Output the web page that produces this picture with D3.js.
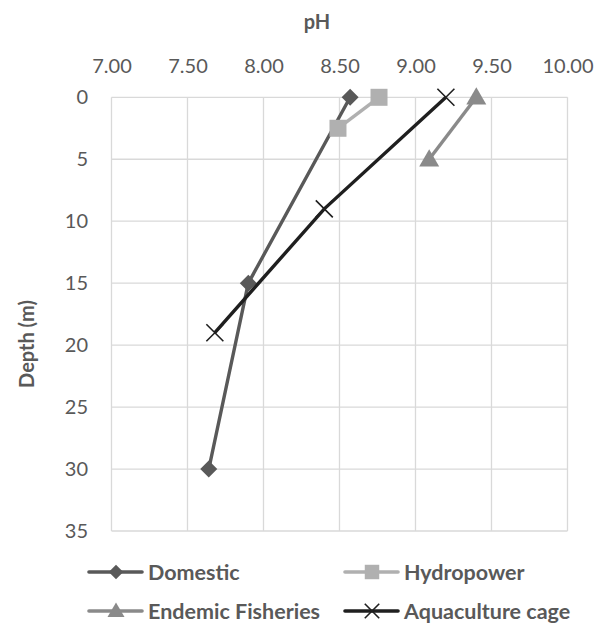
<!DOCTYPE html>
<html><head><meta charset="utf-8">
<script src="https://cdn.jsdelivr.net/npm/d3@7"></script>
<style>body{margin:0;background:#fff}svg{display:block}text{font-family:Lato,"Open Sans",sans-serif}</style>
</head><body>
<script>
const phTicks = [7.0, 7.5, 8.0, 8.5, 9.0, 9.5, 10.0];
const depthTicks = [0, 5, 10, 15, 20, 25, 30, 35];
const domesticPH = [8.57, 7.90, 7.64];
const domesticDepth = [0, 15, 30];
const hydroPH = [8.76, 8.49];
const hydroDepth = [0, 2.5];
const endemicPH = [9.40, 9.09];
const endemicDepth = [0, 5];
const aquaPH = [9.20, 8.40, 7.68];
const aquaDepth = [0, 9, 19];
const seriesNames = ["Domestic", "Hydropower", "Endemic Fisheries", "Aquaculture cage"];

const W = 606, H = 624;
const svg = d3.select("body").append("svg").attr("width", W).attr("height", H);
const x = d3.scaleLinear().domain([7, 10]).range([111.5, 567.5]);
const y = d3.scaleLinear().domain([0, 35]).range([97.3, 531]);

// gridlines
svg.append("g").selectAll("line").data(phTicks).join("line")
  .attr("x1", d => x(d)).attr("x2", d => x(d)).attr("y1", y(0)).attr("y2", y(35))
  .attr("stroke", "#d9d9d9").attr("stroke-width", 1.3);
svg.append("g").selectAll("line").data(depthTicks).join("line")
  .attr("x1", x(7)).attr("x2", x(10)).attr("y1", d => y(d)).attr("y2", d => y(d))
  .attr("stroke", "#d9d9d9").attr("stroke-width", 1.3);

// axes
const xAxis = d3.axisTop(x).tickValues(phTicks).tickFormat(d3.format(".2f")).tickSize(0).tickPadding(0);
const gx = svg.append("g").attr("transform", "translate(0,66)").call(xAxis);
gx.select(".domain").remove();
gx.selectAll("text").attr("font-size", 20).attr("fill", "#595959").attr("dy", "0.35em");

const yAxis = d3.axisLeft(y).tickValues(depthTicks).tickFormat(d3.format("d")).tickSize(0).tickPadding(0);
const gy = svg.append("g").attr("transform", "translate(88,0)").call(yAxis);
gy.select(".domain").remove();
gy.selectAll("text").attr("font-size", 20).attr("fill", "#595959");

svg.append("text").attr("x", 317).attr("y", 22).attr("text-anchor", "middle").attr("dy", "0.35em")
  .attr("font-size", 20).attr("font-weight", "bold").attr("fill", "#595959").text("pH");
svg.append("text").attr("transform", "translate(27,344) rotate(-90)").attr("text-anchor", "middle").attr("dy", "0.35em")
  .attr("font-size", 20).attr("font-weight", "bold").attr("fill", "#595959").text("Depth (m)");

const series = [
  {name: seriesNames[0], ph: domesticPH, depth: domesticDepth, color: "#595959", marker: "diamond"},
  {name: seriesNames[1], ph: hydroPH, depth: hydroDepth, color: "#b0b0b0", marker: "square"},
  {name: seriesNames[2], ph: endemicPH, depth: endemicDepth, color: "#8a8a8a", marker: "triangle"},
  {name: seriesNames[3], ph: aquaPH, depth: aquaDepth, color: "#1f1f1f", marker: "x"}
];

function drawMarker(g, type, color, cx, cy, scale) {
  const s = scale || 1;
  if (type === "diamond") {
    const r = 8.5 * s;
    g.append("path").attr("d", `M${cx},${cy - r}L${cx + r},${cy}L${cx},${cy + r}L${cx - r},${cy}Z`).attr("fill", color);
  } else if (type === "square") {
    const r = 8.5 * s;
    g.append("rect").attr("x", cx - r).attr("y", cy - r).attr("width", 2 * r).attr("height", 2 * r).attr("fill", color);
  } else if (type === "triangle") {
    const r = 10 * s;
    g.append("path").attr("d", `M${cx},${cy - r * 1.0}L${cx + r},${cy + r * 0.72}L${cx - r},${cy + r * 0.72}Z`).attr("fill", color);
  } else if (type === "x") {
    const r = 8.5 * s;
    g.append("path").attr("d", `M${cx - r},${cy - r}L${cx + r},${cy + r}M${cx - r},${cy + r}L${cx + r},${cy - r}`)
      .attr("stroke", color).attr("stroke-width", 1.6).attr("fill", "none");
  }
}

const line = d3.line().x(d => x(d[0])).y(d => y(d[1]));
series.forEach(s => {
  const pts = s.ph.map((v, i) => [v, s.depth[i]]);
  const g = svg.append("g");
  g.append("path").attr("d", line(pts)).attr("fill", "none").attr("stroke", s.color).attr("stroke-width", 3.4);
  pts.forEach(p => drawMarker(g, s.marker, s.color, x(p[0]), y(p[1])));
});

// legend
const legendPos = [[89, 572], [345, 572], [89, 611], [345, 611]];
series.forEach((s, i) => {
  const [lx, ly] = legendPos[i];
  const g = svg.append("g");
  g.append("line").attr("x1", lx).attr("x2", lx + 53).attr("y1", ly).attr("y2", ly)
    .attr("stroke", s.color).attr("stroke-width", 3.6).attr("stroke-linecap", "round");
  drawMarker(g, s.marker, s.color, lx + 27, ly, 0.85);
  g.append("text").attr("x", lx + 59).attr("y", ly).attr("dy", "0.35em")
    .attr("font-size", 21.5).attr("font-weight", "bold").attr("fill", "#595959").text(s.name);
});
</script>
</body></html>
